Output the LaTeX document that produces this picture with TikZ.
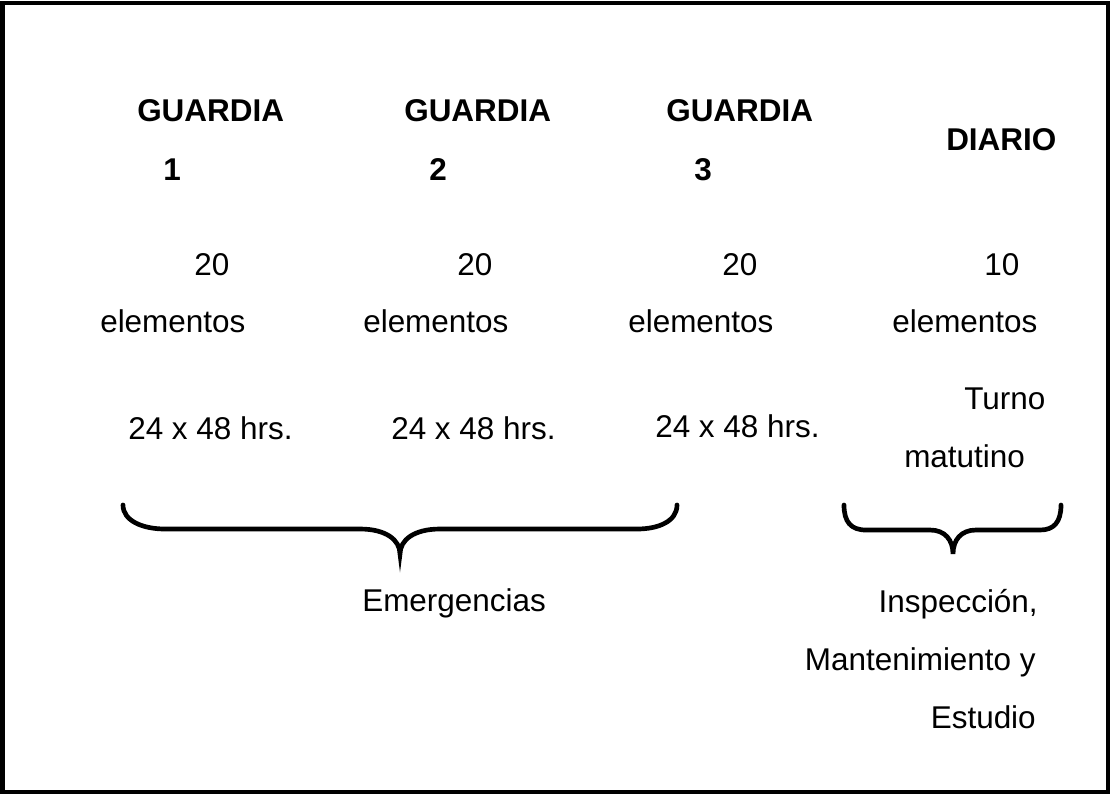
\documentclass[tikz,border=0pt]{standalone}
\usepackage{fontspec}
\setmainfont{Liberation Sans}

\tikzset{
  txt/.style={font=\fontsize{23.6}{28}\selectfont, inner sep=0pt, anchor=base west},
  txtr/.style={txt, anchor=base east},
  head/.style={txt, font=\fontsize{23.6}{28}\selectfont\bfseries},
  brace/.style={line width=3.5pt, line cap=round}
}

\begin{document}
\begin{tikzpicture}[x=0.75pt,y=0.75pt,yscale=-1,xscale=1]
        \useasboundingbox (0,0) rectangle (1110,794);

        %Shape: Rectangle [frame]
        \draw [line width=3pt] (2.5,2.5) rectangle (1107.5,791.5) ;

        %Shape: Brace [emergencias]
        \draw [brace] (123,505) .. controls (123,521) and (143,529) .. (165,529) -- (360,529) .. controls (386,529) and (400,540) .. (400,554) .. controls (400,540) and (414,529) .. (440,529) -- (637,529) .. controls (659,529) and (677,521) .. (677,505) ;
        %Shape: Brace [diario]
        \draw [brace] (844,505) .. controls (844,522) and (851,530) .. (866,530) -- (930,530) .. controls (945,530) and (953,540) .. (953,554) .. controls (953,540) and (961,530) .. (976,530) -- (1040,530) .. controls (1054,530) and (1061,522) .. (1061,505) ;

        % Text Node
        \draw (137,121) node (guardA) [head] {GUARDIA};
        % Text Node
        \draw (163,180) node (numA) [head] {1};
        % Text Node
        \draw (404,121) node (guardB) [head] {GUARDIA};
        % Text Node
        \draw (429,180) node (numB) [head] {2};
        % Text Node
        \draw (666,121) node (guardC) [head] {GUARDIA};
        % Text Node
        \draw (694,180) node (numC) [head] {3};
        % Text Node
        \draw (946,150) node (diario) [head] {DIARIO};

        % Text Node
        \draw (194,275) node (cantA) [txt] {20};
        % Text Node
        \draw (457,275) node (cantB) [txt] {20};
        % Text Node
        \draw (722,275) node (cantC) [txt] {20};
        % Text Node
        \draw (984,275) node (cantD) [txt] {10};
        % Text Node
        \draw (100,332) node (elemA) [txt] {elementos};
        % Text Node
        \draw (363,332) node (elemB) [txt] {elementos};
        % Text Node
        \draw (628,332) node (elemC) [txt] {elementos};
        % Text Node
        \draw (892,332) node (elemD) [txt] {elementos};

        % Text Node
        \draw (128,439) node (horaA) [txt] {24 x 48 hrs.};
        % Text Node
        \draw (391,439) node (horaB) [txt] {24 x 48 hrs.};
        % Text Node
        \draw (655,437) node (horaC) [txt] {24 x 48 hrs.};
        % Text Node
        \draw (964,409) node (turno) [txt] {Turno};
        % Text Node
        \draw (904,467) node (matut) [txt] {matutino};

        % Text Node
        \draw (362,611) node (emerg) [txt] {Emergencias};
        % Text Node
        \draw (1038,612) node (insp) [txtr] {Inspección,};
        % Text Node
        \draw (1036,670) node (mant) [txtr] {Mantenimiento y};
        % Text Node
        \draw (1036,728) node (estud) [txtr] {Estudio};

        \end{tikzpicture}
\end{document}
